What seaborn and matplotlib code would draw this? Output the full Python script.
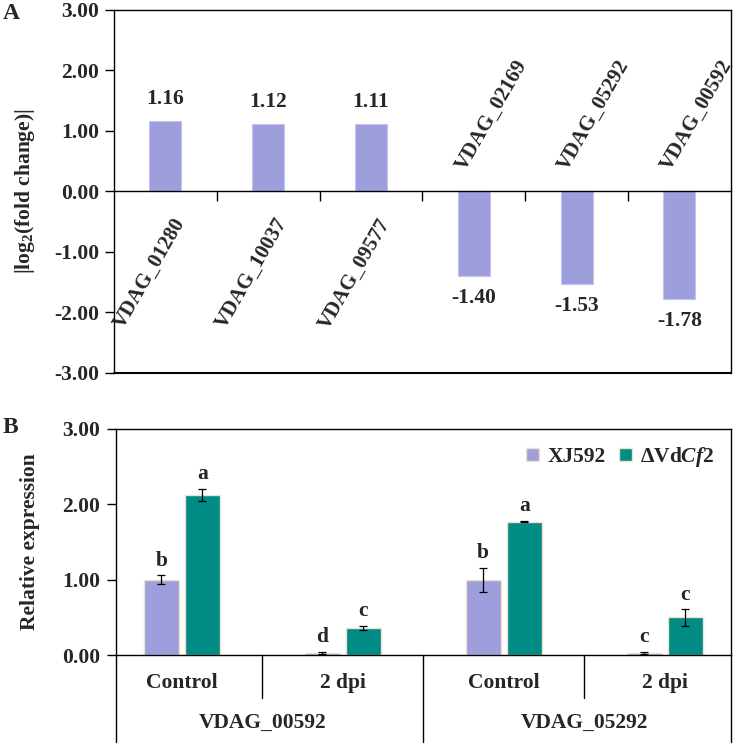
import pandas as pd
import numpy as np
import matplotlib
matplotlib.use('Agg')
import matplotlib.pyplot as plt
import seaborn as sns

# Panel A data
genes_a = ['VDAG_01280', 'VDAG_10037', 'VDAG_09577', 'VDAG_02169', 'VDAG_05292', 'VDAG_00592']
fold_change = [1.16, 1.12, 1.11, -1.40, -1.53, -1.78]

# Panel B data
genes_b = ['VDAG_00592', 'VDAG_00592', 'VDAG_05292', 'VDAG_05292']
conditions = ['Control', '2 dpi', 'Control', '2 dpi']
strains = ['XJ592', r'ΔVd$\mathit{Cf2}$']
xj592 = [1.00, 0.03, 1.00, 0.03]
xj592_err = [0.06, 0.01, 0.16, 0.01]
dvdcf2 = [2.13, 0.36, 1.77, 0.50]
dvdcf2_err = [0.08, 0.03, 0.01, 0.11]
letters_xj = ['b', 'd', 'b', 'c']
letters_dvd = ['a', 'c', 'a', 'c']

lav = '#9E9EDC'
teal = '#008B84'
fs = 15.5

sns.set_theme(style='ticks')
plt.rcParams['font.family'] = ['Liberation Serif', 'DejaVu Serif']
plt.rcParams['font.weight'] = 'bold'
plt.rcParams['axes.labelweight'] = 'bold'
plt.rcParams['axes.edgecolor'] = 'black'
plt.rcParams['axes.linewidth'] = 1.0
plt.rcParams['axes.unicode_minus'] = False
plt.rcParams['mathtext.fontset'] = 'custom'
plt.rcParams['mathtext.rm'] = 'Liberation Serif:bold'
plt.rcParams['mathtext.bf'] = 'Liberation Serif:bold'
plt.rcParams['mathtext.it'] = 'Liberation Serif:italic:bold'

fig = plt.figure(figsize=(7.33, 7.44), dpi=100)

# ---------- Panel A ----------
axA = fig.add_axes([0.1555, 0.4987, 0.8415, 0.4879])
sns.barplot(x=genes_a, y=fold_change, color=lav, width=0.31,
            edgecolor='#C4C4EE', linewidth=0.8, saturation=1, ax=axA)
axA.set_ylim(-3, 3)
axA.set_yticks([-3, -2, -1, 0, 1, 2, 3])
axA.set_yticklabels([f'{v:.2f}' for v in [-3, -2, -1, 0, 1, 2, 3]], fontsize=fs, fontweight='bold')
axA.tick_params(axis='y', direction='out', length=6.5, width=1, pad=4, color='black')
axA.spines['bottom'].set_position(('data', 0))
axA.set_xticks([0.5, 1.5, 2.5, 3.5, 4.5])
axA.set_xticklabels([])
axA.tick_params(axis='x', direction='out', length=7, width=1, color='black')
axA.axhline(-3, color='black', lw=1.5, clip_on=False)
axA.set_ylabel(r'|log$_{\mathbf{2}}$(fold change)|', fontsize=fs, fontweight='bold')
axA.yaxis.set_label_coords(-0.125, 0.5)

lab_fs = 15
for i, (g, v) in enumerate(zip(genes_a, fold_change)):
    if v > 0:
        axA.text(i, v + 0.2, f'{v:.2f}', ha='center', va='bottom', fontsize=fs, fontweight='bold')
        axA.text(i + 0.145, -0.47, g, rotation=60, rotation_mode='anchor',
                 ha='right', va='center', fontsize=lab_fs, fontweight='bold')
    else:
        axA.text(i, v - 0.2, f'{v:.2f}', ha='center', va='top', fontsize=fs, fontweight='bold')
        axA.text(i - 0.13, 0.38, g, rotation=60, rotation_mode='anchor',
                 ha='left', va='center', fontsize=lab_fs, fontweight='bold')

fig.text(0.004, 0.996, 'A', fontsize=17, fontweight='bold', va='top', ha='left')

# ---------- Panel B ----------
keys = [f'{g} {c}' for g, c in zip(genes_b, conditions)]
dfb = pd.DataFrame({
    'key': keys * 2,
    'strain': [strains[0]] * 4 + [strains[1]] * 4,
    'value': xj592 + dvdcf2,
})

axB = fig.add_axes([0.158, 0.1196, 0.839, 0.3038])
sns.barplot(data=dfb, x='key', y='value', hue='strain', palette=[lav, teal],
            width=0.51, gap=0.14, edgecolor='#EFE2CC', linewidth=1, saturation=1,
            errorbar=None, ax=axB)

for cont, errs, lets in zip(axB.containers, [xj592_err, dvdcf2_err], [letters_xj, letters_dvd]):
    for bar, e, l in zip(cont, errs, lets):
        cx = bar.get_x() + bar.get_width() / 2
        h = bar.get_height()
        axB.errorbar(cx, h, yerr=e, fmt='none', ecolor='black', elinewidth=0.9,
                     capsize=3, capthick=0.9)
        axB.text(cx, h + e + 0.06, l, ha='center', va='bottom', fontsize=fs, fontweight='bold')

axB.set_ylim(0, 3)
axB.set_yticks([0, 1, 2, 3])
axB.set_yticklabels([f'{v:.2f}' for v in [0, 1, 2, 3]], fontsize=fs, fontweight='bold')
axB.tick_params(axis='y', direction='out', length=6.5, width=1, pad=5, color='black')
axB.set_xticks(range(4))
axB.set_xticklabels(conditions, fontsize=fs, fontweight='bold')
axB.tick_params(axis='x', length=0, pad=13)
axB.set_xlabel('')
axB.set_ylabel('Relative expression', fontsize=fs, fontweight='bold')
axB.yaxis.set_label_coords(-0.124, 0.5)

xt = axB.get_xaxis_transform()
for xs, yb in [(0.5, -0.19), (2.5, -0.19), (1.5, -0.385)]:
    axB.plot([xs, xs], [0, yb], color='black', lw=1, transform=xt, clip_on=False)
for xs in [0, 1]:
    axB.plot([xs, xs], [0, -0.385], color='black', lw=1, transform=axB.transAxes, clip_on=False)
axB.text(0.5, -0.30, 'VDAG_00592', transform=xt, ha='center', va='center', fontsize=fs, fontweight='bold')
axB.text(2.5, -0.30, 'VDAG_05292', transform=xt, ha='center', va='center', fontsize=fs, fontweight='bold')

sns.move_legend(axB, 'upper right', ncol=2, frameon=False, title=None,
                handlelength=0.6, handleheight=0.6, columnspacing=0.6,
                handletextpad=0.4, borderaxespad=0.35,
                prop={'size': fs, 'weight': 'bold'})

fig.text(0.004, 0.44, 'B', fontsize=17, fontweight='bold', va='top', ha='left')

fig.savefig('out.png', dpi=100)
